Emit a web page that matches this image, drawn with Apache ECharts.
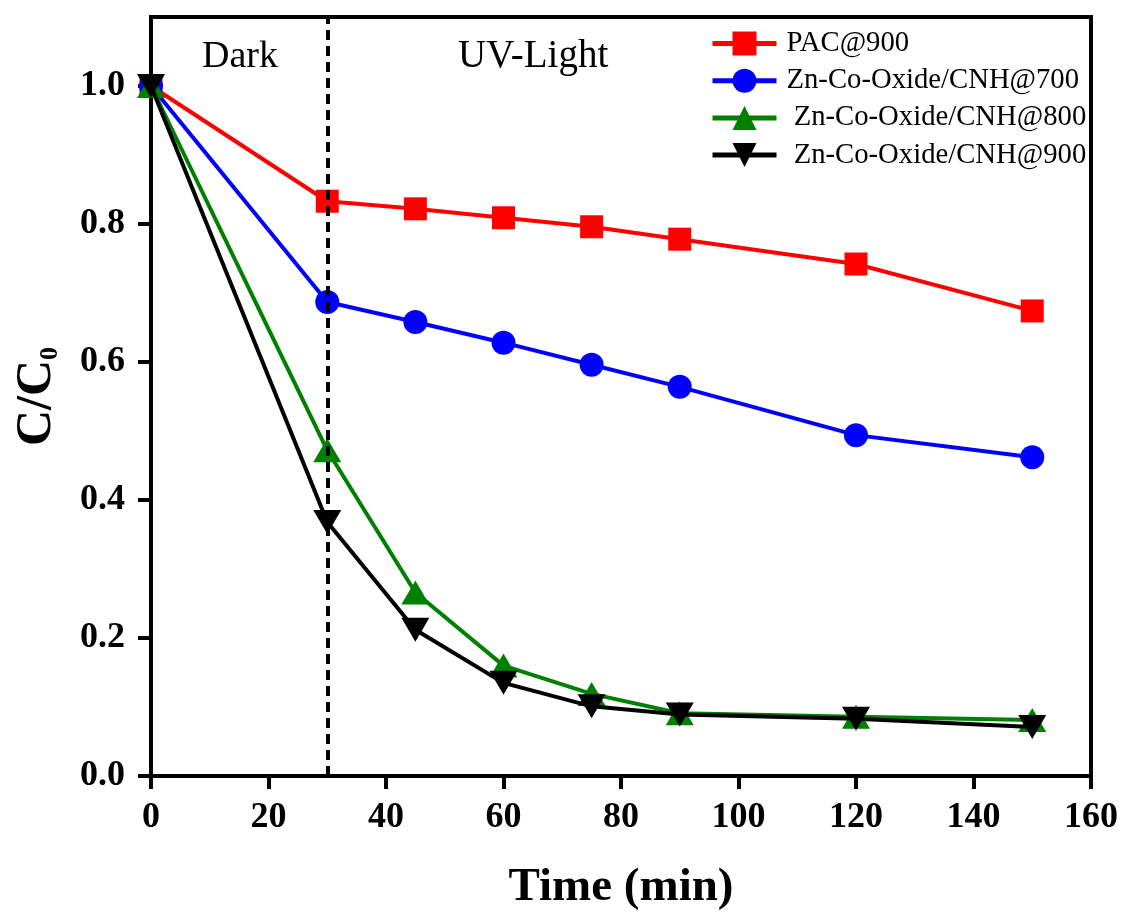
<!DOCTYPE html>
<html><head><meta charset="utf-8">
<script src="https://cdn.jsdelivr.net/npm/echarts@6/dist/echarts.min.js"></script>
<style>html,body{margin:0;padding:0;background:#fff}#c{width:1127px;height:913px}</style>
</head><body><div id="c"></div>
<script>
const times = [0, 30, 45, 60, 75, 90, 120, 150];
const seriesNames = ['PAC@900', 'Zn-Co-Oxide/CNH@700', ' Zn-Co-Oxide/CNH@800', ' Zn-Co-Oxide/CNH@900'];
const pac900 = [1.0, 0.833, 0.822, 0.809, 0.796, 0.778, 0.742, 0.674];
const cnh700 = [1.0, 0.687, 0.658, 0.628, 0.596, 0.564, 0.494, 0.462];
const cnh800 = [1.0, 0.472, 0.266, 0.160, 0.119, 0.091, 0.086, 0.081];
const cnh900 = [1.0, 0.368, 0.212, 0.135, 0.101, 0.089, 0.083, 0.071];
const xTicks = [0, 20, 40, 60, 80, 100, 120, 140, 160];
const yTicks = [0.0, 0.2, 0.4, 0.6, 0.8, 1.0];
const darkEnd = 30;

const font = '"Liberation Serif", "DejaVu Serif", serif';
const colors = ['#ff0000', '#0000ff', '#008000', '#000000'];
const symbols = ['rect', 'circle', 'triangle', 'path://M0,0 L10,0 L5,9 Z'];
const symbolSizes = [23, 24, [28, 24], [28, 24]];
const allData = [pac900, cnh700, cnh800, cnh900];

const series = allData.map((vals, i) => ({
  name: seriesNames[i],
  type: 'line',
  data: vals.map((v, j) => [times[j], v]),
  symbol: symbols[i],
  symbolSize: symbolSizes[i],
  symbolKeepAspect: false,
  lineStyle: { color: colors[i], width: 4 },
  itemStyle: { color: colors[i] },
  z: 2 + i,
  animation: false
}));
series[0].markLine = {
  silent: true, symbol: 'none', animation: false,
  label: { show: false },
  lineStyle: { color: '#000', type: [10, 6], width: 4 },
  data: [{ xAxis: darkEnd }]
};

const chart = echarts.init(document.getElementById('c'), null, { renderer: 'canvas' });
chart.setOption({
  backgroundColor: '#fff',
  animation: false,
  grid: { left: 151, right: 36, top: 17, bottom: 137, show: true, borderColor: '#000', borderWidth: 4,
    containLabel: false, outerBoundsMode: 'none' },
  legend: {
    orient: 'vertical', left: 710, top: 29, padding: 0, itemWidth: 64, itemHeight: 30, itemGap: 8.2,
    lineStyle: { width: 5 },
    textStyle: { fontFamily: font, fontSize: 28.7, color: '#000', padding: [0, 0, 0, 5] },
    data: seriesNames
  },
  xAxis: {
    type: 'value', min: 0, max: 160, interval: 20,
    name: 'Time (min)', nameLocation: 'middle', nameGap: 88,
    nameTextStyle: { fontFamily: font, fontSize: 47, fontWeight: 'bold', color: '#000' },
    axisLine: { show: true, lineStyle: { color: '#000', width: 4 } },
    axisTick: { show: true, inside: false, length: 13, lineStyle: { color: '#000', width: 4 } },
    axisLabel: { fontFamily: font, fontSize: 36, fontWeight: 'bold', color: '#000', margin: 24,
      formatter: v => xTicks.includes(v) ? String(v) : '' },
    splitLine: { show: false }
  },
  yAxis: {
    type: 'value', min: 0, max: 1.1, interval: 0.2,
    name: '{a|C/C}{b|0}', nameLocation: 'middle', nameGap: 88,
    nameTextStyle: { rich: {
      a: { fontFamily: font, fontSize: 50, fontWeight: 'bold', color: '#000' },
      b: { fontFamily: font, fontSize: 26, fontWeight: 'bold', color: '#000', padding: [26, 0, 0, 0] }
    } },
    axisLine: { show: true, lineStyle: { color: '#000', width: 4 } },
    axisTick: { show: true, inside: false, length: 13, lineStyle: { color: '#000', width: 4 } },
    axisLabel: { fontFamily: font, fontSize: 36, fontWeight: 'bold', color: '#000', margin: 26,
      showMaxLabel: false,
      formatter: v => { const t = yTicks.find(y => Math.abs(y - v) < 1e-6); return t === undefined ? '' : t.toFixed(1); } },
    splitLine: { show: false }
  },
  graphic: [
    { type: 'text', x: 202, y: 57, style: { text: 'Dark', fontFamily: font, fontSize: 38, fill: '#000', verticalAlign: 'middle' } },
    { type: 'text', x: 458, y: 57, style: { text: 'UV-Light', fontFamily: font, fontSize: 39, fill: '#000', verticalAlign: 'middle' } }
  ],
  series: series
});
</script></body></html>
